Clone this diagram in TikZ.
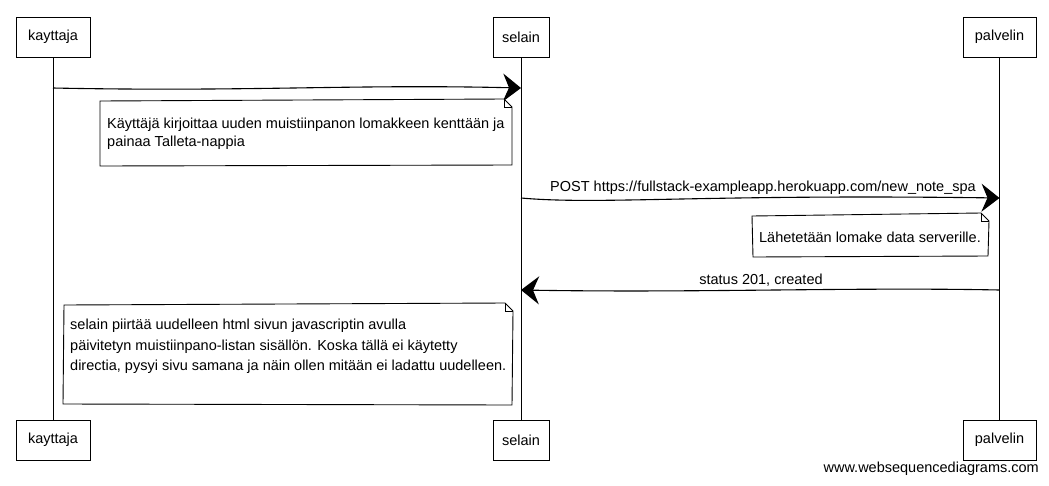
\documentclass[tikz,border=0pt]{standalone}
\usepackage{fontspec}
\setmainfont{Liberation Sans}
\usetikzlibrary{arrows.meta}
\begin{document}
\begin{tikzpicture}[x=1pt,y=-1pt,
  font=\fontsize{14.5}{19.5}\selectfont,
  actor/.style={draw, line width=0.9pt, minimum width=#1, minimum height=40pt, inner sep=0pt},
  life/.style={line width=0.9pt},
  msg/.style={line width=1.1pt, -{Stealth[length=18pt,width=28pt,inset=6pt]}},
  notebox/.style={draw, line width=0.9pt, fill=white},
  notetext/.style={anchor=north west, inner sep=0pt, align=left},
  lbl/.style={inner sep=1pt}]
\useasboundingbox (0,0) rectangle (1049,485);
% participants
\node[actor=74pt] (k1) at (53,37) {kayttaja};
\node[actor=56pt] (s1) at (521,37) {selain};
\node[actor=73pt] (p1) at (999.5,37) {palvelin};
\node[actor=74pt] (k2) at (53,440) {kayttaja};
\node[actor=56pt] (s2) at (521,440) {selain};
\node[actor=73pt] (p2) at (999.5,440) {palvelin};
% lifelines
\draw[life] (k1.south) -- (k2.north);
\draw[life] (s1.south) -- (s2.north);
\draw[life] (p1.south) -- (p2.north);
% message anchor points
\coordinate (m1a) at (53,88);
\coordinate (m1b) at (521,88);
\coordinate (m2a) at (521,198);
\coordinate (m2b) at (999.5,198);
\coordinate (m3a) at (999.5,290);
\coordinate (m3b) at (521,290);
% message 1
\draw[msg] (m1a) .. controls (250,92) and (350,84) .. (m1b);
% note 1
\draw[notebox] (100,101) -- (504,99) -- (512,107) -- (512,165) -- (100,166) -- cycle;
\draw[line width=0.6pt] (504,99) -- (504,107) -- (512,107);
\node[notetext] (n1) at (107,118) {Käyttäjä kirjoittaa uuden muistiinpanon lomakkeen kenttään ja\\[-1.5pt]painaa Talleta-nappia};
% message 2
\draw[msg] (m2a) .. controls (600,205) and (700,194) .. (m2b);
\node[lbl, anchor=south] (l2) at (763,196) {POST https://fullstack-exampleapp.herokuapp.com/new\_note\_spa};
% note 2
\draw[notebox] (752,216) -- (981,213) -- (989,221) -- (988,256) -- (753,257) -- cycle;
\draw[line width=0.6pt] (981,213) -- (981,221) -- (989,221);
\node[lbl] (n2) at (870,237) {Lähetetään lomake data serverille.};
% message 3
\draw[msg] (m3a) .. controls (850,287) and (700,293) .. (m3b);
\node[lbl, anchor=south] (l3) at (761,288) {status 201, created};
% note 3
\draw[notebox] (64,305) -- (505,303) -- (513,311) -- (512,405) -- (63,404) -- cycle;
\draw[line width=0.6pt] (505,303) -- (505,311) -- (513,311);
\node[notetext] (n3) at (70,319) {selain piirtää uudelleen html sivun javascriptin avulla\\[1pt]päivitetyn muistiinpano-listan sisällön. Koska tällä ei käytetty\\[1pt]directia, pysyi sivu samana ja näin ollen mitään ei ladattu uudelleen.};
% footer
\node[lbl, anchor=east] (ft) at (1040,469) {www.websequencediagrams.com};
\end{tikzpicture}
\end{document}
